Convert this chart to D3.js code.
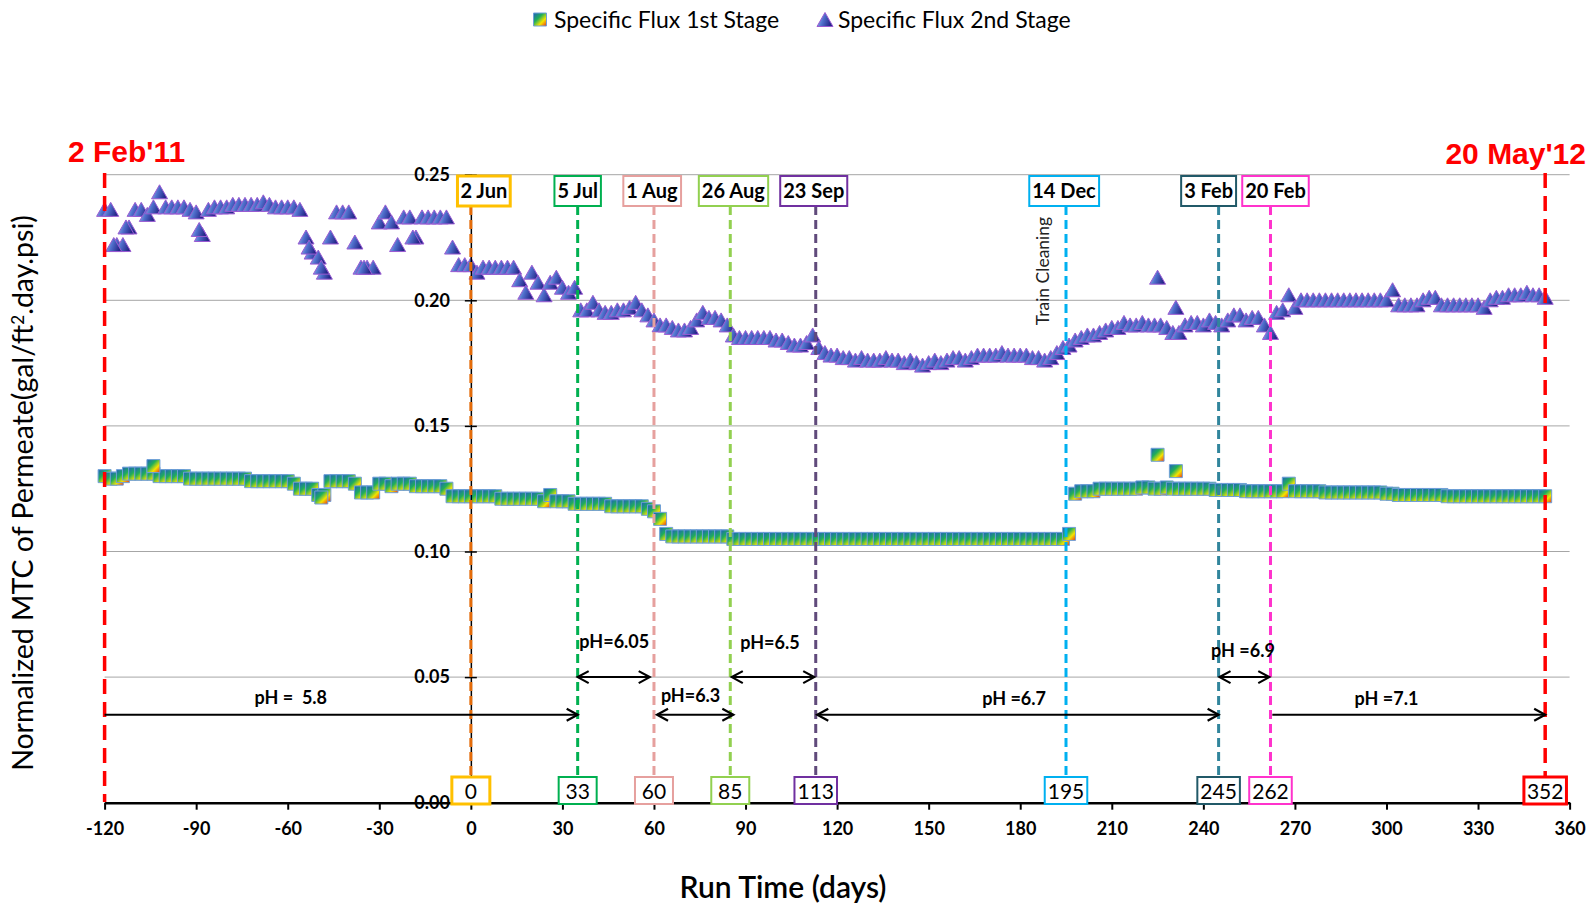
<!DOCTYPE html>
<head>
<meta charset="utf-8">
<style>
body { margin: 0; background: #fff; }
svg { font-family: Lato, "Open Sans", sans-serif; }
.grid line { stroke: #a6a6a6; stroke-width: 1; }
.axis text { font-family: Lato, sans-serif; font-weight: bold; font-size: 18px; fill: #000; }
.axis path, .axis line { stroke: #000; }
.ph text { font-weight: bold; font-size: 18px; white-space: pre; }
</style>
</head>
<body>
<svg width="1593" height="905"></svg>
<script src="https://d3js.org/d3.v7.min.js"></script>
<script>
// run days (every 2nd day), shared by both stages
var runDays = [
-120,-118,-116,-114,-112,-110,-108,-106,-104,-102,
-100,-98,-96,-94,-92,-90,-88,-86,-84,-82,
-80,-78,-76,-74,-72,-70,-68,-66,-64,-62,
-60,-58,-56,-54,-52,-50,-48,-46,-44,-42,
-40,-38,-36,-34,-32,-30,-28,-26,-24,-22,
-20,-18,-16,-14,-12,-10,-8,-6,-4,-2,
0,2,4,6,8,10,12,14,16,18,
20,22,24,26,28,30,32,34,36,38,
40,42,44,46,48,50,52,54,56,58,
60,62,64,66,68,70,72,74,76,78,
80,82,84,86,88,90,92,94,96,98,
100,102,104,106,108,110,112,114,116,118,
120,122,124,126,128,130,132,134,136,138,
140,142,144,146,148,150,152,154,156,158,
160,162,164,166,168,170,172,174,176,178,
180,182,184,186,188,190,192,194,196,198,
200,202,204,206,208,210,212,214,216,218,
220,222,224,226,228,230,232,234,236,238,
240,242,244,246,248,250,252,254,256,258,
260,262,264,266,268,270,272,274,276,278,
280,282,284,286,288,290,292,294,296,298,
300,302,304,306,308,310,312,314,316,318,
320,322,324,326,328,330,332,334,336,338,
340,342,344,346,348,350,352
];

var stage1 = [
0.130,0.129,0.129,0.130,0.131,0.131,0.131,0.131,0.131,0.130,
0.130,0.130,0.130,0.130,0.129,0.129,0.129,0.129,0.129,0.129,
0.129,0.129,0.129,0.129,0.128,0.128,0.128,0.128,0.128,0.128,
0.128,0.127,0.125,0.125,0.125,0.1225,0.1225,0.128,0.128,0.128,
0.128,0.127,0.1235,0.1235,0.1235,0.127,0.127,0.126,0.127,0.127,
0.127,0.126,0.126,0.126,0.126,0.126,0.125,0.122,0.122,0.122,
0.122,0.122,0.122,0.122,0.122,0.121,0.121,0.121,0.121,0.121,
0.121,0.121,0.120,0.1225,0.120,0.120,0.120,0.119,0.119,0.119,
0.119,0.119,0.119,0.118,0.118,0.118,0.118,0.118,0.118,0.117,
0.116,0.113,0.107,0.106,0.106,0.106,0.106,0.106,0.106,0.106,
0.106,0.106,0.106,0.105,0.105,0.105,0.105,0.105,0.105,0.105,
0.105,0.105,0.105,0.105,0.105,0.105,0.105,0.105,0.105,0.105,
0.105,0.105,0.105,0.105,0.105,0.105,0.105,0.105,0.105,0.105,
0.105,0.105,0.105,0.105,0.105,0.105,0.105,0.105,0.105,0.105,
0.105,0.105,0.105,0.105,0.105,0.105,0.105,0.105,0.105,0.105,
0.105,0.105,0.105,0.105,0.105,0.105,0.105,0.105,0.107,0.123,
0.124,0.124,0.124,0.125,0.125,0.125,0.125,0.125,0.125,0.125,
0.1255,0.1255,0.125,0.125,0.1255,0.125,0.125,0.125,0.125,0.125,
0.125,0.125,0.1245,0.1245,0.1245,0.1245,0.1245,0.124,0.124,0.124,
0.124,0.124,0.124,0.124,0.127,0.124,0.124,0.124,0.124,0.124,
0.1235,0.1235,0.1235,0.1235,0.1235,0.1235,0.1235,0.1235,0.1235,0.1235,
0.123,0.123,0.1225,0.1225,0.1225,0.1225,0.1225,0.1225,0.1225,0.1225,
0.122,0.122,0.122,0.122,0.122,0.122,0.122,0.122,0.122,0.122,
0.122,0.122,0.122,0.122,0.122,0.122,0.122
];

var stage2 = [
0.236,0.236,0.222,0.222,0.229,0.236,0.236,0.234,0.237,0.243,
0.237,0.237,0.237,0.237,0.236,0.235,0.226,0.236,0.237,0.237,
0.237,0.238,0.238,0.238,0.238,0.238,0.239,0.238,0.237,0.237,
0.237,0.237,0.236,0.225,0.219,0.217,0.211,0.225,0.235,0.235,
0.235,0.223,0.213,0.213,0.213,0.231,0.235,0.231,0.222,0.233,
0.233,0.225,0.233,0.233,0.233,0.233,0.233,0.221,0.214,0.214,
0.214,0.211,0.213,0.213,0.213,0.213,0.213,0.213,0.208,0.203,
0.211,0.207,0.202,0.207,0.209,0.205,0.203,0.205,0.196,0.196,
0.199,0.196,0.195,0.195,0.196,0.196,0.197,0.199,0.196,0.194,
0.192,0.190,0.190,0.189,0.188,0.188,0.189,0.192,0.195,0.193,
0.193,0.192,0.190,0.186,0.185,0.185,0.185,0.185,0.185,0.185,
0.184,0.184,0.183,0.182,0.182,0.183,0.186,0.181,0.179,0.178,
0.178,0.177,0.177,0.176,0.177,0.176,0.176,0.176,0.177,0.176,
0.176,0.175,0.176,0.175,0.174,0.175,0.176,0.175,0.176,0.177,
0.177,0.176,0.177,0.178,0.178,0.178,0.178,0.179,0.178,0.178,
0.178,0.178,0.177,0.177,0.176,0.177,0.179,0.181,0.182,0.184,
0.185,0.186,0.186,0.187,0.188,0.189,0.189,0.191,0.190,0.190,
0.191,0.190,0.190,0.190,0.189,0.187,0.187,0.190,0.191,0.191,
0.190,0.192,0.191,0.190,0.192,0.194,0.194,0.192,0.193,0.193,
0.190,0.187,0.195,0.196,0.202,0.197,0.200,0.200,0.200,0.200,
0.200,0.200,0.200,0.200,0.200,0.200,0.200,0.200,0.200,0.200,
0.200,0.204,0.198,0.198,0.198,0.198,0.200,0.201,0.201,0.198,
0.198,0.198,0.198,0.198,0.198,0.198,0.197,0.200,0.201,0.201,
0.202,0.202,0.202,0.203,0.202,0.202,0.201
];

// off-band readings
var stage1ExtraDays = [-104, -49, 225, 231];
var stage1Extra = [0.134, 0.1215, 0.1385, 0.132];
var stage2ExtraDays = [-117, -113, -89, -53, -49, -35, -19, 225, 231];
var stage2Extra = [0.222, 0.229, 0.228, 0.221, 0.213, 0.213, 0.225, 0.209, 0.197];

var seriesNames = ["Specific Flux 1st Stage", "Specific Flux 2nd Stage"];

// events (run day of change)
var eventDays = [0, 35, 60, 85, 113, 195, 245, 262];
var eventDates = ["2 Jun", "5 Jul", "1 Aug", "26 Aug", "23 Sep", "14 Dec", "3 Feb", "20 Feb"];
var eventRunDays = ["0", "33", "60", "85", "113", "195", "245", "262"];
var startDay = -120, endDay = 352;
var startLabel = "2 Feb'11", endLabel = "20 May'12", endRunDay = "352";

// pH periods
var phLabels = ["pH =  5.8", "pH=6.05", "pH=6.3", "pH=6.5", "pH =6.7", "pH =6.9", "pH =7.1"];
var phStart = [-120, 35, 61, 85.5, 113.5, 245.3, 262.6];
var phEnd = [35, 58.6, 86, 112.5, 245, 261.6, 352];
var phLevel = [0.035, 0.05, 0.035, 0.05, 0.035, 0.05, 0.035];
var phBothEnds = [false, true, true, true, true, true, false];
var phLabelDay = [-59, 47, 72, 98, 178, 253, 300];
var phLabelValue = [0.0419, 0.0641, 0.0427, 0.0637, 0.0415, 0.0605, 0.0415];

var xTicks = [-120, -90, -60, -30, 0, 30, 60, 90, 120, 150, 180, 210, 240, 270, 300, 330, 360];
var yTicks = [0, 0.05, 0.10, 0.15, 0.20, 0.25];

// styles
var lineColors = ["#E46C0A", "#00B050", "#E6A09E", "#92D050", "#604A7B", "#00B0F0", "#31859C", "#FF33CC"];
var boxColors = ["#FFC000", "#00B050", "#E6A09E", "#92D050", "#7030A0", "#00B0F0", "#215968", "#FF33CC"];
var topShift = [13, 0, -2, 3, -2, -2, -10, 5];

var svg = d3.select("svg");

var x = d3.scaleLinear().domain([-120, 360]).range([104.6, 1569.6]);
var y = d3.scaleLinear().domain([0, 0.25]).range([802.7, 174.7]);

var defs = svg.append("defs");
var sq = defs.append("linearGradient").attr("id", "sqGrad")
    .attr("x1", 0).attr("y1", 0).attr("x2", 1).attr("y2", 1);
[["0", "#1f5fc0"], ["0.38", "#1fae5a"], ["0.68", "#f4e400"], ["1", "#e8301c"]].forEach(function(s) {
  sq.append("stop").attr("offset", s[0]).attr("stop-color", s[1]);
});
var tri = defs.append("linearGradient").attr("id", "triGrad")
    .attr("x1", 0).attr("y1", 0).attr("x2", 1).attr("y2", 0.3);
[["0", "#a6ccf2"], ["0.5", "#4f6fcc"], ["1", "#26288a"]].forEach(function(s) {
  tri.append("stop").attr("offset", s[0]).attr("stop-color", s[1]);
});

// gridlines
svg.append("g").attr("class", "grid")
  .selectAll("line")
  .data(yTicks.slice(1))
  .enter().append("line")
    .attr("x1", x(-120)).attr("x2", x(360))
    .attr("y1", function(d) { return y(d); })
    .attr("y2", function(d) { return y(d); });

var s1 = d3.zip(runDays, stage1).concat(d3.zip(stage1ExtraDays, stage1Extra));
var s2 = d3.zip(runDays, stage2).concat(d3.zip(stage2ExtraDays, stage2Extra));

var sqPath = "M-6.5,-6.5H6.5V6.5H-6.5Z";
var triPath = "M0,-7.5L8,6.5H-8Z";

svg.append("g").selectAll("path")
  .data(s1)
  .enter().append("path")
    .attr("d", sqPath)
    .attr("transform", function(d) { return "translate(" + x(d[0]) + "," + y(d[1]) + ")"; })
    .attr("fill", "url(#sqGrad)")
    .attr("stroke", "#6f9fd8")
    .attr("stroke-width", 1);

svg.append("g").selectAll("path")
  .data(s2)
  .enter().append("path")
    .attr("d", triPath)
    .attr("transform", function(d) { return "translate(" + x(d[0]) + "," + y(d[1]) + ")"; })
    .attr("fill", "url(#triGrad)")
    .attr("stroke", "#9a5ad2")
    .attr("stroke-width", 1);

// y axis at run day 0
var yAxis = svg.append("g").attr("class", "axis")
    .attr("transform", "translate(" + x(0) + ",0)")
    .call(d3.axisLeft(y).tickValues(yTicks).tickFormat(d3.format(".2f")).tickSize(6).tickPadding(15));
yAxis.selectAll(".tick").append("line").attr("x2", 6).attr("stroke", "#000");
yAxis.select(".domain").attr("stroke-width", 1.5);
yAxis.selectAll(".tick line").attr("stroke-width", 1.5);

var xAxis = svg.append("g").attr("class", "axis")
    .attr("transform", "translate(0," + y(0) + ")")
    .call(d3.axisBottom(x).tickValues(xTicks).tickFormat(function(d) { return String(d); })
      .tickSize(7).tickSizeOuter(0).tickPadding(13));
xAxis.select(".domain").attr("stroke-width", 2.5);
xAxis.selectAll(".tick line").attr("stroke-width", 2);

// event lines
var topBoxBottom = 206, botBoxTop = 777;
svg.append("g").selectAll("line")
  .data(eventDays)
  .enter().append("line")
    .attr("x1", function(d) { return x(d); }).attr("x2", function(d) { return x(d); })
    .attr("y1", topBoxBottom).attr("y2", botBoxTop)
    .attr("stroke", function(d, i) { return lineColors[i]; })
    .attr("stroke-width", 3)
    .attr("stroke-dasharray", "9,5");

// boundary lines
[startDay, endDay].forEach(function(d, i) {
  svg.append("line")
    .attr("x1", x(d)).attr("x2", x(d))
    .attr("y1", 173).attr("y2", i === 0 ? 802 : botBoxTop)
    .attr("stroke", "#FF0000").attr("stroke-width", 3.5)
    .attr("stroke-dasharray", "15,8");
});

// top date boxes
var topBoxes = svg.append("g").selectAll("g")
  .data(eventDates)
  .enter().append("g");
topBoxes.append("text")
    .attr("x", function(d, i) { return x(eventDays[i]) + topShift[i]; })
    .attr("y", 198)
    .attr("text-anchor", "middle")
    .style("font-weight", "bold").style("font-size", "20px")
    .text(function(d) { return d; });
topBoxes.each(function(d, i) {
  var g = d3.select(this), b = g.select("text").node().getBBox();
  g.insert("rect", "text")
    .attr("x", b.x - 3).attr("y", 176)
    .attr("width", b.width + 6).attr("height", 30)
    .attr("fill", "#fff")
    .attr("stroke", boxColors[i])
    .attr("stroke-width", i === 0 ? 3 : 2);
});

// bottom run-day boxes
var botDays = eventDays.concat([endDay]);
var botLabels = eventRunDays.concat([endRunDay]);
var botColors = boxColors.concat(["#FF0000"]);
var botBoxes = svg.append("g").selectAll("g")
  .data(botLabels)
  .enter().append("g");
botBoxes.append("text")
    .attr("x", function(d, i) { return x(botDays[i]); })
    .attr("y", 799)
    .attr("text-anchor", "middle")
    .style("font-size", "21px")
    .text(function(d) { return d; });
botBoxes.each(function(d, i) {
  var g = d3.select(this), cx = x(botDays[i]), w = Math.max(38, g.select("text").node().getBBox().width + 6);
  g.insert("rect", "text")
    .attr("x", cx - w / 2).attr("y", botBoxTop)
    .attr("width", w).attr("height", 27)
    .attr("fill", "#fff")
    .attr("stroke", botColors[i])
    .attr("stroke-width", (i === 0 || i === botLabels.length - 1) ? 3 : 2);
});

// pH arrows
var ph = svg.append("g").attr("class", "ph");
function head(px, py, dir) {
  ph.append("path")
    .attr("d", "M" + (px - dir * 11) + "," + (py - 6) + "L" + px + "," + py + "L" + (px - dir * 11) + "," + (py + 6))
    .attr("fill", "none").attr("stroke", "#000").attr("stroke-width", 2.2);
}
phLabels.forEach(function(lab, i) {
  var x0 = x(phStart[i]), x1 = x(phEnd[i]), py = y(phLevel[i]);
  ph.append("line").attr("x1", x0).attr("x2", x1).attr("y1", py).attr("y2", py)
    .attr("stroke", "#000").attr("stroke-width", 2);
  head(x1, py, 1);
  if (phBothEnds[i]) head(x0, py, -1);
  ph.append("text")
    .attr("x", x(phLabelDay[i])).attr("y", y(phLabelValue[i]))
    .attr("dy", "0.35em").attr("text-anchor", "middle")
    .text(lab);
});

// boundary dates
svg.append("text").attr("x", 68).attr("y", 162)
  .style("font-family", "'Liberation Sans', Arial, sans-serif").style("font-weight", "bold")
  .style("font-size", "30px").attr("fill", "#FF0000").text(startLabel);
svg.append("text").attr("x", 1586).attr("y", 164).attr("text-anchor", "end")
  .style("font-family", "'Liberation Sans', Arial, sans-serif").style("font-weight", "bold")
  .style("font-size", "30px").attr("fill", "#FF0000").text(endLabel);

// train cleaning note
svg.append("text")
  .attr("transform", "translate(" + (x(195) - 23) + ",271) rotate(-90)")
  .attr("text-anchor", "middle").attr("dy", "0.35em")
  .style("font-size", "17.5px").attr("fill", "#222")
  .text("Train Cleaning");

// axis titles
svg.append("text")
  .attr("transform", "translate(23,493) rotate(-90)")
  .attr("text-anchor", "middle").attr("dy", "0.35em")
  .style("font-size", "28.5px")
  .html("Normalized MTC of Permeate(gal/ft<tspan dy='-9' font-size='17'>2</tspan><tspan dy='9'>.day.psi)</tspan>");
svg.append("text")
  .attr("x", 783).attr("y", 887).attr("dy", "0.35em")
  .attr("text-anchor", "middle")
  .style("font-size", "30px").style("font-weight", "600")
  .text("Run Time (days)");

// legend
var leg = svg.append("g");
leg.append("path").attr("d", sqPath).attr("transform", "translate(540,19.5)")
  .attr("fill", "url(#sqGrad)").attr("stroke", "#6f9fd8");
leg.append("text").attr("x", 554).attr("y", 19.5).attr("dy", "0.35em")
  .style("font-size", "23px").text(seriesNames[0]);
leg.append("path").attr("d", triPath).attr("transform", "translate(825,20)")
  .attr("fill", "url(#triGrad)").attr("stroke", "#9a5ad2");
leg.append("text").attr("x", 838).attr("y", 19.5).attr("dy", "0.35em")
  .style("font-size", "23px").text(seriesNames[1]);
</script>
</body>
